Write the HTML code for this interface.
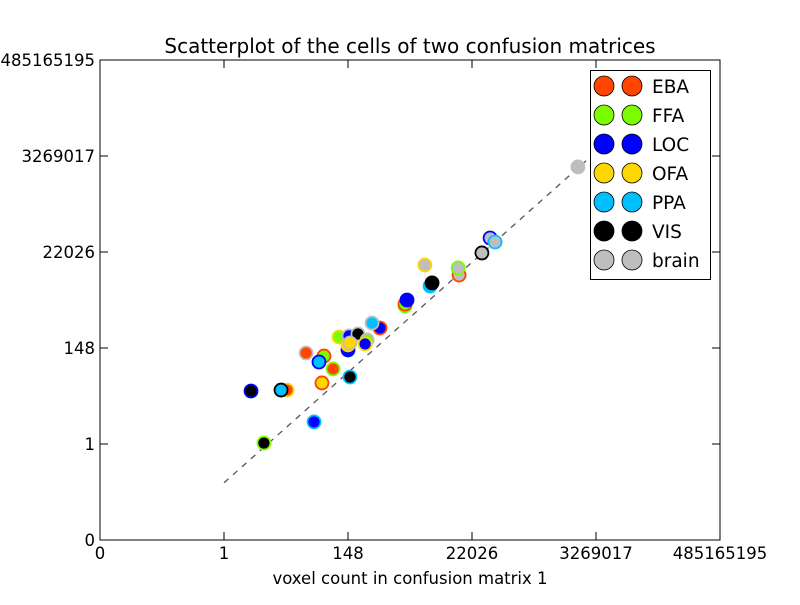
<!DOCTYPE html>
<html><head><meta charset="utf-8"><style>
body{margin:0;background:#fff;}
svg text{font-family:"DejaVu Sans","Liberation Sans",sans-serif;}
</style></head><body>
<svg id="chart" width="800" height="600" viewBox="0 0 800 600">
<rect x="0" y="0" width="800" height="600" fill="#fff"/>
<g id="marks"></g>
<rect x="100" y="60" width="620" height="480" fill="none" stroke="#000" stroke-width="1"/>
<g id="ticks"></g>
<text x="410" y="53" font-size="20" text-anchor="middle">Scatterplot of the cells of two confusion matrices</text>
<text x="410" y="584" font-size="16.5" text-anchor="middle">voxel count in confusion matrix 1</text>
<g id="legend"></g>
</svg>
<script>
const tickVals = [-5, 0, 5, 10, 15, 20];
const tickLabels = ["0", "1", "148", "22026", "3269017", "485165195"];
const classNames = ["EBA", "FFA", "LOC", "OFA", "PPA", "VIS", "brain"];
const classColors = ["#ff4500", "#7cfc00", "#0000ff", "#ffd700", "#00bfff", "#000000", "#bebebe"];
// points: natural-log values of voxel counts
const ptX = [1.09, 1.61, 2.54, 2.30, 3.63, 3.31, 4.03, 3.83, 4.40, 3.95, 5.08, 4.64, 5.0, 5.0, 5.04, 5.40, 5.08, 5.77, 5.69, 6.29, 5.97, 7.30, 7.30, 7.38, 8.31, 8.39, 8.10, 9.48, 9.44, 10.40, 10.73, 10.93, 14.27];
const ptY = [2.76, 0.05, 2.81, 2.81, 1.15, 4.74, 4.58, 4.27, 3.91, 3.18, 3.49, 5.57, 4.90, 5.16, 5.63, 5.73, 5.26, 5.42, 5.21, 6.04, 6.30, 7.19, 7.29, 7.50, 8.23, 8.39, 9.32, 8.80, 9.17, 9.95, 10.73, 10.52, 14.43];
const ptFace = [5, 5, 0, 4, 2, 0, 1, 4, 0, 3, 5, 1, 2, 3, 2, 5, 3, 1, 2, 2, 4, 0, 1, 2, 4, 5, 6, 6, 6, 6, 6, 6, 6];
const ptEdge = [2, 1, 3, 5, 4, 6, 0, 2, 1, 0, 4, 3, 2, 3, 6, 6, 6, 6, 3, 0, 6, 1, 0, 2, 4, 5, 3, 0, 1, 5, 2, 4, 6];
const fitX = [0, 14.6];
const fitY = [-2.02, 14.75];

const NS = "http://www.w3.org/2000/svg";
const sx = v => 100 + (v + 5) * 24.8;
const sy = v => 540 - (v + 5) * 19.2;
function mk(tag, attrs, parent) {
  const e = document.createElementNS(NS, tag);
  for (const k in attrs) e.setAttribute(k, attrs[k]);
  parent.appendChild(e);
  return e;
}
const marks = document.getElementById("marks");
const fl = mk("line", {x1: sx(fitX[0]), y1: sy(fitY[0]), x2: sx(fitX[1]), y2: sy(fitY[1]), stroke: "#555", "stroke-width": 1.3, "stroke-dasharray": "6,6"}, marks);


for (let i = 0; i < ptX.length; i++) {
  const c = mk("circle", {cx: sx(ptX[i]), cy: sy(ptY[i]), r: 6.5, fill: classColors[ptFace[i]], stroke: classColors[ptEdge[i]], "stroke-width": 1.8}, marks);
  
  
}
const ticks = document.getElementById("ticks");
tickVals.forEach((v, i) => {
  const x = sx(v), y = sy(v);
  mk("line", {x1: x, y1: 540, x2: x, y2: 532, stroke: "#000"}, ticks);
  mk("line", {x1: x, y1: 60, x2: x, y2: 68, stroke: "#000"}, ticks);
  mk("line", {x1: 100, y1: y, x2: 108, y2: y, stroke: "#000"}, ticks);
  mk("line", {x1: 720, y1: y, x2: 712, y2: y, stroke: "#000"}, ticks);
  const tx = mk("text", {x: x, y: 559, "font-size": 16.5, "text-anchor": "middle"}, ticks);
  tx.textContent = tickLabels[i];
  
  
  const ty = mk("text", {x: 95, y: y + 6, "font-size": 16.5, "text-anchor": "end"}, ticks);
  ty.textContent = tickLabels[i];
  
  
});
const lg = document.getElementById("legend");
mk("rect", {x: 590.5, y: 70.5, width: 120, height: 209, fill: "#fff", stroke: "#000"}, lg);
classNames.forEach((n, i) => {
  const y = 86 + i * 29;
  const g = mk("g", {}, lg);
  
  
  mk("circle", {cx: 604, cy: y, r: 10, fill: classColors[i], stroke: "#000", "stroke-width": 0.8}, g);
  mk("circle", {cx: 632, cy: y, r: 10, fill: classColors[i], stroke: "#000", "stroke-width": 0.8}, g);
  const t = mk("text", {x: 652, y: y + 7, "font-size": 18.5}, g);
  t.textContent = n;
});
</script>
</body></html>
